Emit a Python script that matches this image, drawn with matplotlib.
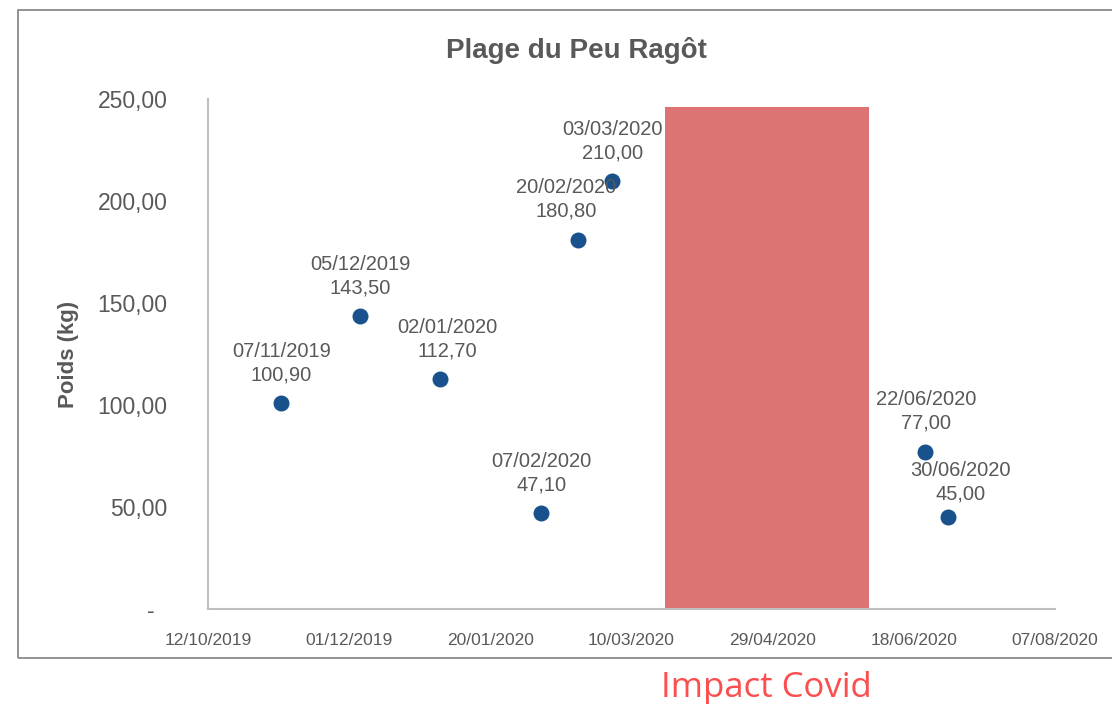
import matplotlib
matplotlib.use("Agg")
import matplotlib.pyplot as plt
import matplotlib.dates as mdates
from matplotlib.patches import Rectangle
from matplotlib.ticker import FixedLocator
from datetime import datetime

plt.rcParams['font.family'] = ['Liberation Sans', 'DejaVu Sans']

# ---- data ----
dates = ["07/11/2019", "05/12/2019", "02/01/2020", "07/02/2020",
         "20/02/2020", "03/03/2020", "22/06/2020", "30/06/2020"]
poids = [100.90, 143.50, 112.70, 47.10, 180.80, 210.00, 77.00, 45.00]

covid_start = "22/03/2020"
covid_end = "02/06/2020"
covid_height = 246

x_tick_labels = ["12/10/2019", "01/12/2019", "20/01/2020", "10/03/2020",
                 "29/04/2020", "18/06/2020", "07/08/2020"]
y_ticks = [0, 50, 100, 150, 200, 250]

# label offsets in pixels (dx, dy) for data labels
label_offsets = [(0, 40), (0, 40), (8, 40), (0, 40), (-12, 41), (1, 39), (1, 41), (13, 35)]

def d(s):
    return datetime.strptime(s, "%d/%m/%Y")

xd = [d(s) for s in dates]

fig = plt.figure(figsize=(11.12, 7.04), dpi=100)
W, H = 1112, 704

# outer border
fig.patches.append(Rectangle((18 / W, 1 - 658 / H), (1120 - 18) / W, (658 - 10) / H,
                             transform=fig.transFigure, fill=False,
                             edgecolor='#808080', linewidth=1.2, zorder=0))

ax = fig.add_axes([208 / W, 1 - 609 / H, (1055 - 208) / W, (609 - 99) / H])

# covid bar
cs, ce = d(covid_start), d(covid_end)
ax.bar(mdates.date2num(cs), covid_height, width=(ce - cs).days, align='edge',
       color='#db7472', zorder=1)

ax.scatter(xd, poids, s=110, color='#18518c', zorder=3)

for x, y, s, (dx, dy) in zip(xd, poids, dates, label_offsets):
    ax.annotate(f"{s}\n{y:.2f}".replace('.', ','), (x, y),
                xytext=(dx * 0.72, dy * 0.72), textcoords='offset points',
                ha='center', va='center', fontsize=14.5, color='#595959',
                linespacing=1.3, zorder=4)

tick_dates = [d(s) for s in x_tick_labels]
ax.set_xlim(tick_dates[0], tick_dates[-1])
ax.set_ylim(0, 250)
ax.xaxis.set_major_locator(FixedLocator(mdates.date2num(tick_dates)))
ax.set_xticklabels(x_tick_labels)
ax.set_yticks(y_ticks)
ax.set_yticklabels(["-  " if v == 0 else f"{v:.2f}".replace('.', ',') for v in y_ticks])

ax.tick_params(axis='x', length=0, pad=17, labelsize=12.5, labelcolor='#595959')
ax.tick_params(axis='y', length=0, pad=29, labelsize=16.5, labelcolor='#595959')

for side in ['top', 'right']:
    ax.spines[side].set_visible(False)
for side in ['left', 'bottom']:
    ax.spines[side].set_color('#bfbfbf')
    ax.spines[side].set_linewidth(1.5)

ax.set_ylabel("Poids (kg)", fontsize=16, fontweight='bold', color='#595959')
ax.yaxis.set_label_coords((79 - 208) / (1055 - 208), 0.5)

fig.text(576 / W, 1 - 50 / H, "Plage du Peu Ragôt", ha='center', va='center',
         fontsize=20, fontweight='bold', color='#595959')

fig.text(766 / W, 1 - 697 / H, "Impact Covid", ha='center', va='baseline',
         fontsize=25, color='#fb4e4e', family=['Open Sans', 'DejaVu Sans'])

fig.savefig("out.png", dpi=100)
